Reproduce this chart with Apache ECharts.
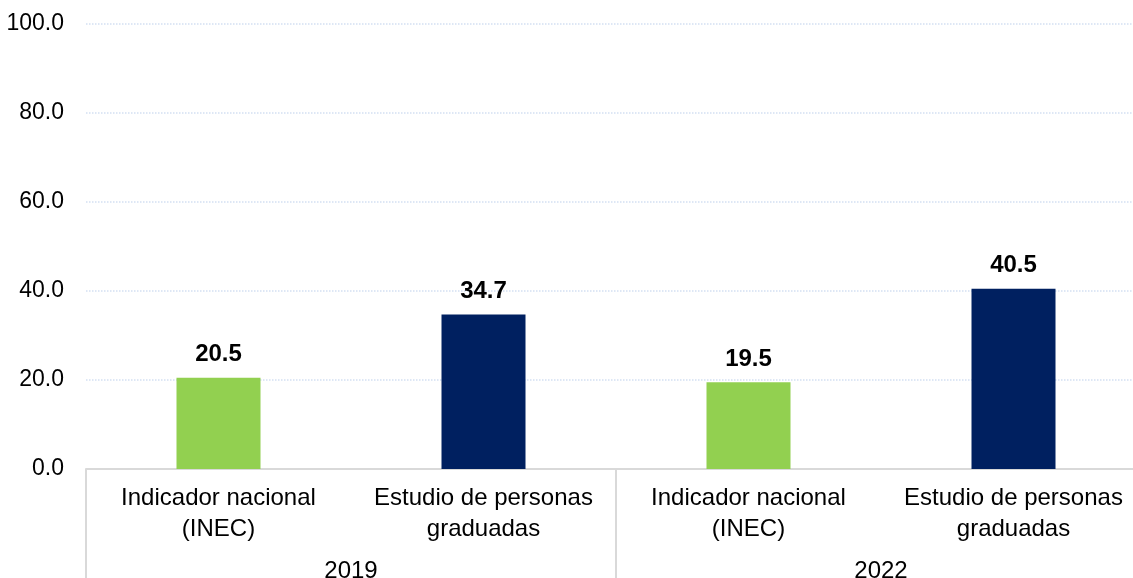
<!DOCTYPE html>
<html>
<head>
<meta charset="utf-8">
<script src="https://cdn.jsdelivr.net/npm/echarts@6/dist/echarts.min.js"></script>
<style>
  html, body { margin: 0; padding: 0; background: #fff; }
  #chart { width: 1133px; height: 578px; }
</style>
</head>
<body>
<div id="chart"></div>
<script>
// datos
var categories = ['Indicador nacional\n(INEC)', 'Estudio de personas\ngraduadas', 'Indicador nacional\n(INEC)', 'Estudio de personas\ngraduadas'];
var years = ['2019', '2022'];
var values = [20.5, 34.7, 19.5, 40.5];
var barColors = ['#92D050', '#002060', '#92D050', '#002060'];

var chart = echarts.init(document.getElementById('chart'), null, { renderer: 'canvas' });

var option = {
  animation: false,
  textStyle: { fontFamily: 'Liberation Sans, Arial, sans-serif' },
  grid: { left: 86, top: 24, width: 1060, bottom: 109, outerBoundsMode: 'none', containLabel: false },
  xAxis: [{
    type: 'category',
    data: categories,
    position: 'bottom',
    axisLine: { show: true, lineStyle: { color: '#d9d9d9', width: 2 } },
    axisTick: { show: false },
    axisLabel: {
      interval: 0,
      color: '#000',
      fontSize: 24,
      lineHeight: 31,
      margin: 14
    }
  }, {
    type: 'category',
    data: years,
    position: 'bottom',
    offset: 0,
    axisLine: { show: false },
    axisTick: { show: true, length: 112, lineStyle: { color: '#d9d9d9', width: 2 } },
    axisLabel: { interval: 0, color: '#000', fontSize: 24, margin: 90 }
  }],
  yAxis: {
    type: 'value',
    min: 0,
    max: 100,
    interval: 20,
    axisLine: { show: false },
    axisTick: { show: false },
    axisLabel: {
      color: '#000',
      fontSize: 23,
      margin: 22,
      formatter: function (v) { return v.toFixed(1); }
    },
    splitLine: { lineStyle: { color: '#d3e0f2', type: 'dotted', width: 1.5 } }
  },
  series: [{
    type: 'bar',
    xAxisIndex: 0,
    barWidth: 84,
    data: values,
    itemStyle: {
      color: function (p) { return barColors[p.dataIndex]; }
    },
    label: {
      show: true,
      position: 'top',
      distance: 11,
      color: '#000',
      fontSize: 24,
      fontWeight: 'bold',
      formatter: function (p) { return p.value.toFixed(1); }
    }
  }]
};

chart.setOption(option);
</script>
</body>
</html>
